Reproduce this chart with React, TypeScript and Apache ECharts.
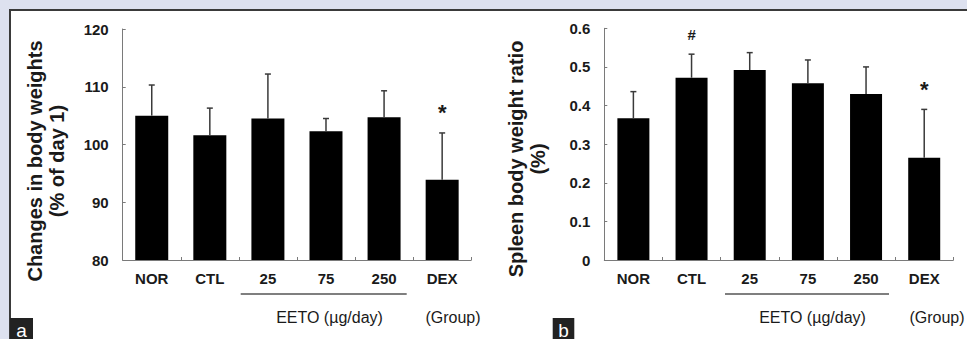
import React, { useEffect, useRef } from "react";
import * as echarts from "echarts";

const categories = ["NOR", "CTL", "25", "75", "250", "DEX"];
const bodyWeight = [105.0, 101.6, 104.5, 102.3, 104.7, 93.9];
const bodyWeightSD = [5.3, 4.7, 7.7, 2.2, 4.6, 8.1];
const bodyMarks = ["", "", "", "", "", "*"];
const spleenRatio = [0.367, 0.472, 0.492, 0.458, 0.43, 0.265];
const spleenRatioSD = [0.069, 0.061, 0.045, 0.06, 0.07, 0.125];
const spleenMarks = ["", "#", "", "", "", "*"];
const bodyTicks = { min: 80, max: 120, interval: 10 };
const spleenTicks = { min: 0, max: 0.6, interval: 0.1 };

const FONT = "Liberation Sans, Arial, sans-serif";
const TXT = "#1a1a1a";
const AX = "#7a7a7a";

function errorSeries(values: number[], sds: number[], marks: string[], axisIndex: number) {
  return {
    type: "custom",
    xAxisIndex: axisIndex,
    yAxisIndex: axisIndex,
    z: 5,
    data: values.map((v, i) => [i, v, sds[i]]),
    renderItem: (params: any, api: any) => {
      const x = api.value(0);
      const v = api.value(1);
      const e = api.value(2);
      const base = api.coord([x, v]);
      const top = api.coord([x, v + e]);
      const mark = marks[params.dataIndex];
      const children: any[] = [
        {
          type: "line",
          shape: { x1: base[0], y1: base[1], x2: top[0], y2: top[1] },
          style: { stroke: "#3a3a3a", lineWidth: 1.5 },
        },
        {
          type: "line",
          shape: { x1: top[0] - 3, y1: top[1], x2: top[0] + 3, y2: top[1] },
          style: { stroke: "#3a3a3a", lineWidth: 1.5 },
        },
      ];
      if (mark) {
        children.push({
          type: "text",
          x: top[0],
          y: top[1] - 20,
          style: {
            text: mark,
            fontSize: mark === "*" ? 22 : 15,
            fontWeight: "bold",
            fontFamily: FONT,
            fill: TXT,
            align: "center",
            verticalAlign: "middle",
          },
        });
      }
      return { type: "group", children };
    },
  };
}

function xAxisCfg(gridIndex: number) {
  return {
    type: "category",
    gridIndex,
    data: categories,
    axisLine: { show: true, lineStyle: { color: AX, width: 1 } },
    axisTick: { show: true, inside: true, length: 3, alignWithLabel: false, lineStyle: { color: AX } },
    axisLabel: { interval: 0, margin: 11, fontSize: 15, fontWeight: "bold", color: TXT, fontFamily: FONT },
    splitLine: { show: false },
  };
}

function yAxisCfg(gridIndex: number, t: { min: number; max: number; interval: number }) {
  return {
    type: "value",
    gridIndex,
    min: t.min,
    max: t.max,
    interval: t.interval,
    axisLine: { show: true, lineStyle: { color: AX, width: 1 } },
    axisTick: { show: true, inside: true, length: 3, lineStyle: { color: AX } },
    axisLabel: { margin: 14, fontSize: 15, fontWeight: "bold", color: TXT, fontFamily: FONT },
    splitLine: { show: false },
  };
}

export default function App() {
  const ref = useRef<HTMLDivElement>(null);
  useEffect(() => {
    if (!ref.current) return;
    const chart = echarts.init(ref.current, undefined, { renderer: "svg" });
    const titleStyle = {
      fontSize: 20,
      fontWeight: "bold",
      fontFamily: FONT,
      fill: TXT,
      align: "center",
      verticalAlign: "middle",
      lineHeight: 22.5,
    };
    const bottomText = { fontSize: 16, fontFamily: FONT, fill: TXT, align: "center", verticalAlign: "middle" };
    chart.setOption({
      animation: false,
      backgroundColor: "#dde1ef",
      grid: [
        { left: 122.7, top: 29, width: 348.5, height: 231 },
        { left: 604.3, top: 28.3, width: 349, height: 231.7 },
      ],
      xAxis: [xAxisCfg(0), xAxisCfg(1)],
      yAxis: [yAxisCfg(0, bodyTicks), yAxisCfg(1, spleenTicks)],
      graphic: [
        {
          type: "rect",
          z: -10,
          shape: { x: 10, y: 10, width: 970, height: 340 },
          style: { fill: "#ffffff", stroke: "#3a3a3a", lineWidth: 2 },
        },
        {
          type: "text",
          x: 46,
          y: 161,
          rotation: Math.PI / 2,
          style: { ...titleStyle, text: "Changes in body weights\n(% of day 1)" },
        },
        {
          type: "text",
          x: 527,
          y: 159,
          rotation: Math.PI / 2,
          style: { ...titleStyle, text: "Spleen body weight ratio\n(%)" },
        },
        { type: "line", shape: { x1: 240.7, y1: 294, x2: 406.7, y2: 294 }, style: { stroke: "#555", lineWidth: 1.5 } },
        { type: "line", shape: { x1: 725, y1: 294, x2: 889, y2: 294 }, style: { stroke: "#555", lineWidth: 1.5 } },
        { type: "text", x: 329.5, y: 317, style: { ...bottomText, text: "EETO (µg/day)" } },
        { type: "text", x: 453, y: 317, style: { ...bottomText, text: "(Group)" } },
        { type: "text", x: 812.5, y: 317, style: { ...bottomText, text: "EETO (µg/day)" } },
        { type: "text", x: 937, y: 317, style: { ...bottomText, text: "(Group)" } },
        { type: "rect", shape: { x: 10, y: 318, width: 23, height: 25 }, style: { fill: "#222" } },
        {
          type: "text",
          x: 21.5,
          y: 330,
          style: { text: "a", fontSize: 19, fontFamily: FONT, fill: "#fff", align: "center", verticalAlign: "middle" },
        },
        { type: "rect", shape: { x: 552.7, y: 318, width: 21.6, height: 25 }, style: { fill: "#222" } },
        {
          type: "text",
          x: 563.5,
          y: 330,
          style: { text: "b", fontSize: 19, fontFamily: FONT, fill: "#fff", align: "center", verticalAlign: "middle" },
        },
      ],
      series: [
        {
          type: "bar",
          xAxisIndex: 0,
          yAxisIndex: 0,
          data: bodyWeight,
          barWidth: 33,
          itemStyle: { color: "#000" },
        },
        {
          type: "bar",
          xAxisIndex: 1,
          yAxisIndex: 1,
          data: spleenRatio,
          barWidth: 32,
          itemStyle: { color: "#000" },
        },
        errorSeries(bodyWeight, bodyWeightSD, bodyMarks, 0),
        errorSeries(spleenRatio, spleenRatioSD, spleenMarks, 1),
      ],
    });
    return () => chart.dispose();
  }, []);
  return <div ref={ref} style={{ position: "absolute", left: 0, top: 0, width: 967, height: 339 }} />;
}
